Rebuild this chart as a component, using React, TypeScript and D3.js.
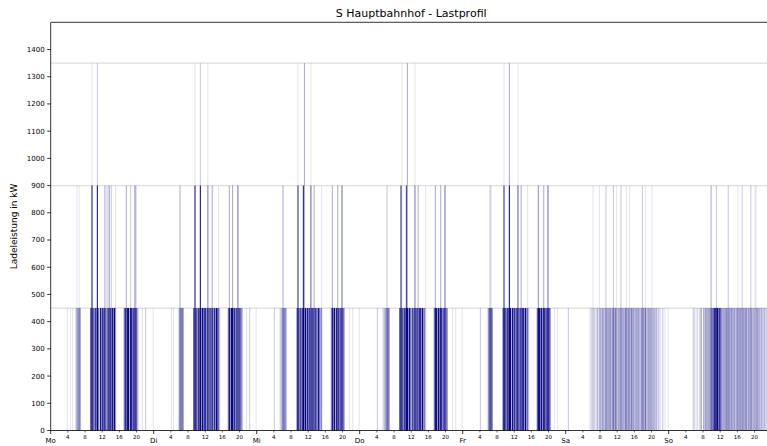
import React from "react";
import * as d3 from "d3";

const TITLE = "S Hauptbahnhof - Lastprofil";
const Y_LABEL = "Ladeleistung in kW";
const dayLabels = ["Mo", "Di", "Mi", "Do", "Fr", "Sa", "So"];
const hourLabels = [4, 8, 12, 16, 20];
const yTicks = [0, 100, 200, 300, 400, 500, 600, 700, 800, 900, 1000, 1100, 1200, 1300, 1400];
const levelLines = [450, 900, 1350];

// Intensity (0-9) of 450 kW bars per quarter hour, one string per day (24 groups of 4 slots)
const load450 = [
  "0000 0000 0000 0001 0010 1002 3454 0000 0000 0958 3949 5294 9694 3959 4959 3000 0000 5949 9399 5969 4200 0100 2000 0001",
  "0000 0000 0000 0000 1010 0002 4564 0000 0000 0949 3969 4958 9394 9593 9496 5200 0000 0594 9959 4939 7530 0010 0200 0001",
  "0000 0000 0000 0000 2000 0123 4553 0000 0000 0593 9489 3949 5939 9496 4953 4000 0000 0495 9395 9496 7400 0010 0100 0001",
  "0000 0000 0000 0000 2000 0123 4564 0000 0000 0949 3969 9495 3949 6939 9494 5100 0000 0599 4959 9396 6500 0010 0100 0001",
  "0000 0000 0000 0000 2000 0002 6775 0000 0000 0599 4969 9395 9498 3959 9494 5200 0000 0699 5949 9599 8500 0100 1000 0000",
  "0020 0000 0000 0000 0000 0011 2121 1312 3243 2434 3524 4353 2434 3425 4343 3534 2434 3243 4352 3434 2332 3121 1020 1001",
  "0000 0000 0000 0000 0000 0012 1020 1230 3243 3435 5698 7958 6434 3543 4343 3424 4353 3434 4243 3424 2343 3232 2312 1010",
];

// 900 kW bars per day: [hour of day, intensity]
const load900: [number, number][][] = [
  [[6, 1], [6.5, 1], [9.5, 8], [10.75, 8], [12.5, 3], [13, 2], [13.5, 4], [14, 2], [15, 1], [17.5, 3], [18.5, 2], [19.5, 4], [19.75, 2]],
  [[6, 3], [9.5, 8], [10.75, 8], [12.5, 4], [13.5, 3], [15, 1], [17.5, 3], [18.25, 3], [19.5, 5]],
  [[6, 3], [9.5, 7], [10.75, 8], [12.5, 5], [13.25, 3], [15, 1], [17.5, 3], [18.75, 3], [19.75, 5]],
  [[6.25, 2], [9.5, 8], [10.75, 7], [12.75, 4], [13.5, 3], [15.25, 1], [17.5, 3], [18.75, 3], [19.75, 5]],
  [[6.25, 2], [6.5, 1], [9.5, 7], [10.75, 8], [12.75, 5], [13.5, 3], [15, 1], [17.5, 4], [18.75, 3], [19.75, 5]],
  [[6.25, 1], [7.75, 1], [9.25, 2], [11, 2], [11.75, 1], [12.75, 2], [14, 1], [14.75, 1], [17.75, 2], [18.5, 1], [20, 1]],
  [[9.75, 3], [11, 2], [13.75, 2], [16, 1], [17, 2], [19, 2], [20, 1], [20.25, 1]],
];

// 1350 kW bars per day: [hour of day, intensity]
const load1350: [number, number][][] = [
  [[9.5, 1], [10.75, 2]],
  [[9.5, 1], [10.75, 2], [12.5, 1]],
  [[9.5, 1], [11, 3], [12.5, 1]],
  [[9.75, 1], [11, 3], [12.75, 1]],
  [[9.5, 1], [10.75, 3], [12.75, 1]],
  [],
  [],
];

type Bar = { h: number; kw: number; k: number };

function buildBars(): Bar[] {
  const bars: Bar[] = [];
  load450.forEach((s, d) => {
    s.replace(/\s/g, "").split("").map(Number).forEach((k, i) => {
      if (k > 0) bars.push({ h: d * 24 + i / 4, kw: 450, k });
    });
  });
  load900.forEach((list, d) => list.forEach(([h, k]) => bars.push({ h: d * 24 + h, kw: 900, k })));
  load1350.forEach((list, d) => list.forEach(([h, k]) => bars.push({ h: d * 24 + h, kw: 1350, k })));
  return bars;
}

export default function App() {
  const W = 767, H = 446;
  const left = 50.7, right = 771.7, top = 22.3, bottom = 430.5;
  const x = d3.scaleLinear().domain([0, 168]).range([left, right]);
  const y = d3.scaleLinear().domain([0, 1500]).range([bottom, top]);
  const op = d3.scaleLinear().domain([0, 9]).range([0, 0.97]);
  const bars = buildBars();
  const font = "DejaVu Sans, sans-serif";
  const slotW = x(0.25) - x(0);

  return (
    <div style={{ position: "absolute", left: 0, top: 0 }}>
      <svg width={W} height={H} style={{ display: "block", background: "#fff" }}>
        <text x={(left + right) / 2} y={17} textAnchor="middle" fontFamily={font} fontSize={11} fill="#000">
          {TITLE}
        </text>
        {levelLines.map((v) => (
          <line key={v} x1={left} x2={W} y1={y(v)} y2={y(v)} stroke="#dedede" strokeWidth={1.3} />
        ))}
        <g>
          {bars.map((b, i) => (
            <rect
              key={i}
              x={x(b.h)}
              width={slotW}
              y={y(b.kw)}
              height={y(0) - y(b.kw)}
              fill="#000080"
              fillOpacity={op(b.k)}
            />
          ))}
        </g>
        {/* spines */}
        <line x1={left} x2={left} y1={top} y2={bottom} stroke="#000" strokeWidth={0.8} />
        <line x1={left} x2={W} y1={bottom} y2={bottom} stroke="#000" strokeWidth={0.8} />
        <line x1={left} x2={W} y1={top} y2={top} stroke="#000" strokeWidth={0.8} />
        {/* y ticks */}
        {yTicks.map((t) => (
          <g key={t}>
            <line x1={left - 3.5} x2={left} y1={y(t)} y2={y(t)} stroke="#000" strokeWidth={0.8} />
            <text x={left - 6} y={y(t)} dy="0.35em" textAnchor="end" fontFamily={font} fontSize={7} fill="#000">
              {t}
            </text>
          </g>
        ))}
        <text
          transform={`translate(${17},${(top + bottom) / 2}) rotate(-90)`}
          textAnchor="middle"
          fontFamily={font}
          fontSize={9}
          fill="#000"
        >
          {Y_LABEL}
        </text>
        {/* x ticks */}
        {dayLabels.map((d, i) => (
          <g key={d}>
            <line x1={x(i * 24)} x2={x(i * 24)} y1={bottom} y2={bottom + 3.5} stroke="#000" strokeWidth={0.8} />
            <text x={x(i * 24)} y={442.5} textAnchor="middle" fontFamily={font} fontSize={7} fill="#000">
              {d}
            </text>
            {hourLabels.map((hh) => (
              <g key={hh}>
                <line x1={x(i * 24 + hh)} x2={x(i * 24 + hh)} y1={bottom} y2={bottom + 2} stroke="#000" strokeWidth={0.6} />
                <text x={x(i * 24 + hh)} y={438.8} textAnchor="middle" fontFamily={font} fontSize={5.5} fill="#000">
                  {hh}
                </text>
              </g>
            ))}
          </g>
        ))}
      </svg>
    </div>
  );
}
